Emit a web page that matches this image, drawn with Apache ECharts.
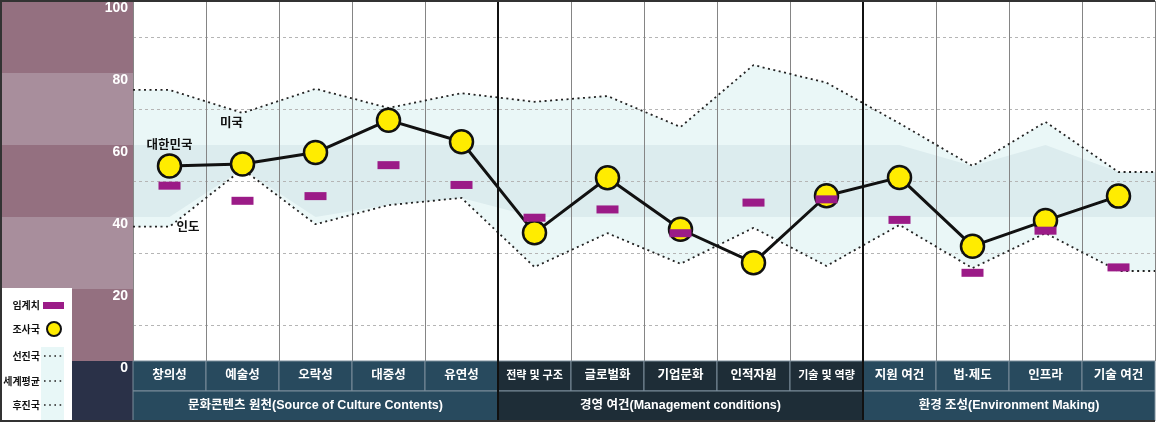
<!DOCTYPE html>
<html><head><meta charset="utf-8">
<script src="https://cdn.jsdelivr.net/npm/echarts@6/dist/echarts.min.js"></script>
<style>html,body{margin:0;padding:0;background:#fff}#c{width:1159px;height:422px}</style>
</head><body><div id="c"></div>
<script>
// ---- data ----
const categories = ['창의성','예술성','오락성','대중성','유연성','전략 및 구조','글로벌화','기업문화','인적자원','기술 및 역량','지원 여건','법·제도','인프라','기술 여건'];
const groups = ['문화콘텐츠 원천(Source of Culture Contents)','경영 여건(Management conditions)','환경 조성(Environment Making)'];
const groupSizes = [5, 5, 4];
const korea = [54.2, 54.7, 57.9, 66.9, 60.9, 35.6, 50.9, 36.6, 27.3, 45.9, 51.0, 31.9, 39.0, 45.8];
const threshold = [48.7, 44.5, 45.8, 54.4, 48.9, 39.8, 42.1, 35.5, 44.0, 44.9, 39.2, 24.5, 36.2, 26.0];
const advanced = [75.3, 68.9, 75.6, 70.3, 74.4, 72.0, 73.6, 65.0, 82.2, 77.3, 66.0, 54.2, 66.4, 52.5];
const developing = [37.3, 53.3, 38.0, 43.3, 45.3, 26.1, 35.5, 27.0, 37.0, 26.4, 37.8, 25.8, 35.5, 25.0];
const worldAvgRange = [40, 60];
const yMin = 0, yMax = 100, yStep = 20;
const legendLabels = ['임계치', '조사국', '선진국', '세계평균', '후진국'];
const koreaName = '대한민국';
const advancedName = '미국';
const developingName = '인도';

// ---- derived ----
const n = categories.length;
const xs = [0, ...categories.map((_, i) => i + 0.5), n];
const ext = a => [a[0], ...a, a[a.length - 1]];
const U = ext(advanced), L = ext(developing);
const clamp = (v, lo, hi) => Math.min(Math.max(v, lo), hi);
const B = L.map((l, i) => clamp(worldAvgRange[0], l, U[i]));
const C = L.map((l, i) => clamp(worldAvgRange[1], l, U[i]));
const pair = arr => xs.map((x, i) => [x, arr[i]]);
const bandData = xs.map((x, i) => [x, L[i], U[i], B[i], C[i]]);
const groupBounds = [];
const groupStarts = [];
const groupOf = [];
{ let s = 0; groupSizes.forEach((g, k) => { groupStarts.push(s); for (let j = 0; j < g; j++) groupOf.push(k); s += g; if (k < groupSizes.length - 1) groupBounds.push(s); }); }

const FONT = '"Liberation Sans", "Noto Sans CJK KR", sans-serif';
const KFONT = '"Noto Sans CJK KR", sans-serif';
const cellColors = ['#284a5e', '#1e2d37', '#284a5e'];

const chart = echarts.init(document.getElementById('c'), null, {renderer: 'canvas'});

const dottedStyle = {color: '#222', width: 1.8, type: [2, 3.5]};
const annLabel = {show: true, color: '#111', fontWeight: 'bold', fontSize: 12.5, fontFamily: KFONT};

const cellData = [];
categories.forEach((c, i) => cellData.push([i, i + 1, 0, i, groupOf[i]]));
groups.forEach((g, k) => cellData.push([groupStarts[k], groupStarts[k] + groupSizes[k], 1, k, k]));

const option = {
  animation: false,
  grid: [
    {left: 133, right: 4, top: 1, height: 360},
    {left: 0, width: 133, top: 1, height: 360},
    {left: 133, right: 4, top: 361, height: 60}
  ],
  xAxis: [
    {gridIndex: 0, type: 'value', min: 0, max: n, interval: 1, axisLabel: {show: false}, axisLine: {show: false}, axisTick: {show: false},
     splitLine: {show: true, lineStyle: {color: '#858585', width: 1}}},
    {gridIndex: 1, type: 'value', min: 0, max: 1, show: false},
    {gridIndex: 2, type: 'value', min: 0, max: n, show: false}
  ],
  yAxis: [
    {gridIndex: 0, type: 'value', min: yMin, max: yMax, interval: yStep, axisLine: {show: false}, axisTick: {show: false},
     splitLine: {show: false}, minorTick: {show: false, splitNumber: 2},
     minorSplitLine: {show: true, lineStyle: {color: '#b5b5b5', width: 1, type: [3, 3]}},
     axisLabel: {color: '#fff', fontWeight: 'bold', fontSize: 14, fontFamily: FONT, verticalAlign: 'top', margin: 5}},
    {gridIndex: 1, type: 'value', min: yMin, max: yMax, interval: yStep, z: -2, axisLine: {show: false}, axisTick: {show: false},
     axisLabel: {show: false}, splitLine: {show: false},
     splitArea: {show: true, areaStyle: {color: ['#947080', '#a88e9c']}}},
    {gridIndex: 2, type: 'value', min: 0, max: 2, inverse: true, show: false}
  ],
  series: [
    {name: 'band', type: 'custom', z: -1, silent: true, xAxisIndex: 0, yAxisIndex: 0, encode: {x: 0, y: [1, 2]},
     data: bandData,
     renderItem: (params, api) => {
       if (params.dataIndexInside !== 0) return null;
       const cnt = params.dataInsideLength;
       const lo = [], hi = [], b = [], c = [];
       for (let i = 0; i < cnt; i++) {
         const x = api.value(0, i);
         lo.push(api.coord([x, api.value(1, i)]));
         hi.push(api.coord([x, api.value(2, i)]));
         b.push(api.coord([x, api.value(3, i)]));
         c.push(api.coord([x, api.value(4, i)]));
       }
       return {type: 'group', children: [
         {type: 'polygon', shape: {points: lo.concat(hi.slice().reverse())}, style: {fill: '#eaf7f7'}},
         {type: 'polygon', shape: {points: b.concat(c.slice().reverse())}, style: {fill: '#dcecee'}}
       ]};
     }},
    {name: '선진국', type: 'line', symbol: 'none', z: 3, silent: true, lineStyle: dottedStyle,
     data: pair(U).map((p, i) => i === 2 ? {value: p, symbol: 'circle', symbolSize: 0.1, label: Object.assign({}, annLabel, {formatter: advancedName, position: 'bottom', distance: 3, offset: [-11, 0]})} : p),
     markLine: {symbol: 'none', silent: true, label: {show: false}, lineStyle: {color: '#111', width: 2, type: 'solid'},
       data: groupBounds.map(x => ({xAxis: x}))}},
    {name: '후진국', type: 'line', symbol: 'none', z: 3, silent: true, lineStyle: dottedStyle,
     data: pair(L).map((p, i) => i === 1 ? {value: p, symbol: 'circle', symbolSize: 0.1, label: Object.assign({}, annLabel, {formatter: developingName, position: 'right', distance: 7})} : p)},
    {name: '조사국', type: 'line', z: 4, symbol: 'circle', symbolSize: 23, lineStyle: {color: '#111', width: 3},
     itemStyle: {color: '#ffec00', borderColor: '#111', borderWidth: 2.5},
     data: korea.map((v, i) => i === 0 ? {value: [i + 0.5, v], label: Object.assign({}, annLabel, {formatter: koreaName, position: 'top', distance: 3})} : [i + 0.5, v])},
    {name: '임계치', type: 'scatter', z: 5, symbol: 'rect', symbolSize: [22, 8], itemStyle: {color: '#9b1b87', opacity: 1},
     data: threshold.map((v, i) => [i + 0.5, v])},
    {name: 'cells', type: 'custom', xAxisIndex: 2, yAxisIndex: 2, silent: true, encode: {x: [0, 1], y: 2},
     data: cellData,
     renderItem: (params, api) => {
       const x0 = api.value(0), x1 = api.value(1), row = api.value(2), k = api.value(3), g = api.value(4);
       const p0 = api.coord([x0, row]), p1 = api.coord([x1, row + 1]);
       const y = Math.min(p0[1], p1[1]), h = Math.abs(p1[1] - p0[1]);
       const txt = row === 0 ? categories[k] : groups[k];
       const fs = row === 0 ? (txt.length > 5 ? 11 : 12.5) : 12.5;
       return {type: 'group', children: [
         {type: 'rect', shape: {x: p0[0], y: y, width: p1[0] - p0[0], height: h}, style: {fill: cellColors[g], stroke: '#7a8d9a', lineWidth: 1}},
         {type: 'text', style: {text: txt, x: (p0[0] + p1[0]) / 2, y: y + h / 2, fill: '#fff', align: 'center', verticalAlign: 'middle',
           fontSize: fs, fontWeight: 'bold', fontFamily: FONT}}
       ]};
     }},
    {name: 'bounds', type: 'custom', xAxisIndex: 2, yAxisIndex: 2, silent: true, z: 3, encode: {x: 0},
     data: groupBounds.map(x => [x]),
     renderItem: (params, api) => {
       const a = api.coord([api.value(0), 0]), b = api.coord([api.value(0), 2]);
       return {type: 'line', shape: {x1: a[0], y1: a[1], x2: b[0], y2: b[1]}, style: {stroke: '#111', lineWidth: 2}};
     }}
  ],
  graphic: [
    {type: 'rect', z: -1, shape: {x: 0, y: 361, width: 133, height: 61}, style: {fill: '#2a3148'}},
    {type: 'rect', z: 10, shape: {x: 2, y: 288, width: 70, height: 132}, style: {fill: '#fff'}},
    {type: 'rect', z: 11, shape: {x: 41, y: 347, width: 23, height: 73}, style: {fill: '#e8f7f7'}},
    ...legendLabels.map((t, i) => ({type: 'text', z: 12, style: {text: t, x: 40, y: [305, 329, 356, 381, 405][i], align: 'right', verticalAlign: 'middle',
      fill: '#111', fontSize: 10, fontWeight: 'bold', fontFamily: KFONT}})),
    {type: 'rect', z: 12, shape: {x: 43, y: 302, width: 21, height: 7}, style: {fill: '#9b1b87'}},
    {type: 'circle', z: 12, shape: {cx: 54, cy: 329, r: 7}, style: {fill: '#ffec00', stroke: '#111', lineWidth: 2}},
    ...[356, 381, 405].map(y => ({type: 'line', z: 12, shape: {x1: 44, y1: y, x2: 64, y2: y}, style: {stroke: '#222', lineWidth: 1.6, lineDash: [1.6, 3.6]}})),
    {type: 'line', z: 20, shape: {x1: 0, y1: 1, x2: 1155, y2: 1}, style: {stroke: '#333', lineWidth: 2}},
    {type: 'line', z: 20, shape: {x1: 1, y1: 0, x2: 1, y2: 422}, style: {stroke: '#333', lineWidth: 2}},
    {type: 'line', z: 20, shape: {x1: 0, y1: 421, x2: 1155, y2: 421}, style: {stroke: '#333', lineWidth: 2}}
  ]
};
chart.setOption(option);
</script>
</body></html>
